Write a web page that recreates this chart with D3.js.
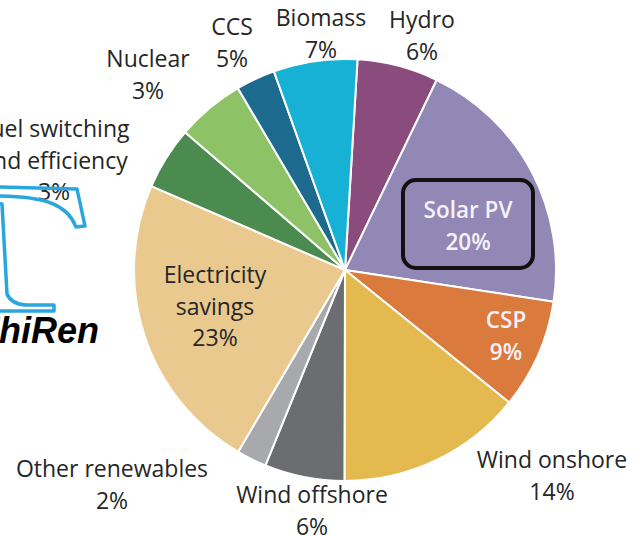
<!DOCTYPE html>
<html>
<head>
<meta charset="utf-8">
<script src="https://cdn.jsdelivr.net/npm/d3@7"></script>
<style>
  html, body { margin: 0; padding: 0; background: #fff; }
  svg text { font-family: "Open Sans", "Noto Sans", sans-serif; }
</style>
</head>
<body>
<div id="chart"></div>
<script>
// slice order, clockwise from the top
const categories = ['Hydro', 'Solar PV', 'CSP', 'Wind onshore', 'Wind offshore', 'Other renewables',
  'Electricity savings', 'Fuel switching and efficiency', 'Nuclear', 'CCS', 'Biomass'];
// slice sizes as drawn (% of the circle)
const shares = [6.2, 20.2, 8.4, 14.2, 6.1, 2.3, 23.0, 4.8, 5.2, 3.0, 6.4];
// percentages printed in the labels
const pctLabels = ['6%', '20%', '9%', '14%', '6%', '2%', '23%', '3%', '3%', '5%', '7%'];
const colors = ['#8a4b7d', '#9188b5', '#db7a3d', '#e4b94f', '#6b6d70', '#a7a9ac',
  '#e9c98e', '#4b8b4f', '#8dc266', '#1c6a8e', '#17b1d6'];

const width = 642, height = 536;
const cx = 345, cy = 270, radius = 211;
const startAngle = 3.4 * Math.PI / 180;

// label layout: anchor x, first baseline y, lines
const labelLayout = {
  'Hydro': {x: 422, y: 28, lines: ['Hydro']},
  'Biomass': {x: 321, y: 26, lines: ['Biomass']},
  'CCS': {x: 232, y: 35, lines: ['CCS']},
  'Nuclear': {x: 148, y: 67, lines: ['Nuclear']},
  'Fuel switching and efficiency': {x: 54, y: 137, lines: ['Fuel switching', 'and efficiency']},
  'Electricity savings': {x: 215, y: 283, lines: ['Electricity', 'savings']},
  'Other renewables': {x: 112, y: 477, lines: ['Other renewables']},
  'Wind offshore': {x: 312, y: 503, lines: ['Wind offshore']},
  'Wind onshore': {x: 552, y: 468, lines: ['Wind onshore']},
  'CSP': {x: 506, y: 328, lines: ['CSP'], inside: true},
  'Solar PV': {x: 468, y: 218, lines: ['Solar PV'], inside: true, boxed: true}
};
const lineHeight = 31.5;

const svg = d3.select('#chart').append('svg')
  .attr('width', width).attr('height', height);

const color = d3.scaleOrdinal().domain(categories).range(colors);

const pie = d3.pie().sort(null).value(d => d.value)
  .startAngle(startAngle).endAngle(startAngle + 2 * Math.PI);
const arc = d3.arc().innerRadius(0).outerRadius(radius);

const data = categories.map((c, i) => ({name: c, value: shares[i], pct: pctLabels[i]}));

const pieG = svg.append('g').attr('transform', `translate(${cx},${cy})`);
pieG.selectAll('path')
  .data(pie(data))
  .join('path')
  .attr('d', arc)
  .attr('fill', d => color(d.data.name))
  .attr('stroke', '#fff')
  .attr('stroke-width', 2)
  .attr('stroke-linejoin', 'round');

// labels
const labelG = svg.append('g');
data.forEach(d => {
  const l = labelLayout[d.name];
  if (l.boxed) {
    labelG.append('rect')
      .attr('x', 403).attr('y', 180).attr('width', 130).attr('height', 88)
      .attr('rx', 13).attr('ry', 13)
      .attr('fill', 'none').attr('stroke', '#111').attr('stroke-width', 4);
  }
  const t = labelG.append('text')
    .attr('text-anchor', 'middle')
    .attr('font-size', l.inside ? 22.5 : 23)
    .attr('font-weight', l.inside ? 600 : 400)
    .attr('fill', l.inside ? '#f4f2f8' : '#262626');
  l.lines.concat([d.pct]).forEach((s, i) => {
    t.append('tspan').attr('x', l.x).attr('y', l.y + i * lineHeight).text(s);
  });
});

// watermark (cropped logo on the left)
const wm = svg.append('g');
wm.append('path')
  .attr('d', 'M-5,187 L77,189 L85,226 L76,227 C68,206 48,196 -5,196')
  .attr('fill', 'none').attr('stroke', '#2aa6df').attr('stroke-width', 3.5)
  .attr('stroke-linejoin', 'round');
wm.append('path')
  .attr('d', 'M-5,203 L2,204 L7,294 Q11,304 26,305 L54,305 L54,311 L-5,311')
  .attr('fill', 'none').attr('stroke', '#2aa6df').attr('stroke-width', 3.5)
  .attr('stroke-linejoin', 'round');
wm.append('text')
  .attr('x', 99).attr('y', 343)
  .attr('text-anchor', 'end')
  .style('font-family', '"Liberation Sans", Arial, sans-serif')
  .attr('font-size', 36).attr('font-weight', 'bold').attr('font-style', 'italic')
  .attr('fill', '#000')
  .text('ZhiRen');
</script>
</body>
</html>
